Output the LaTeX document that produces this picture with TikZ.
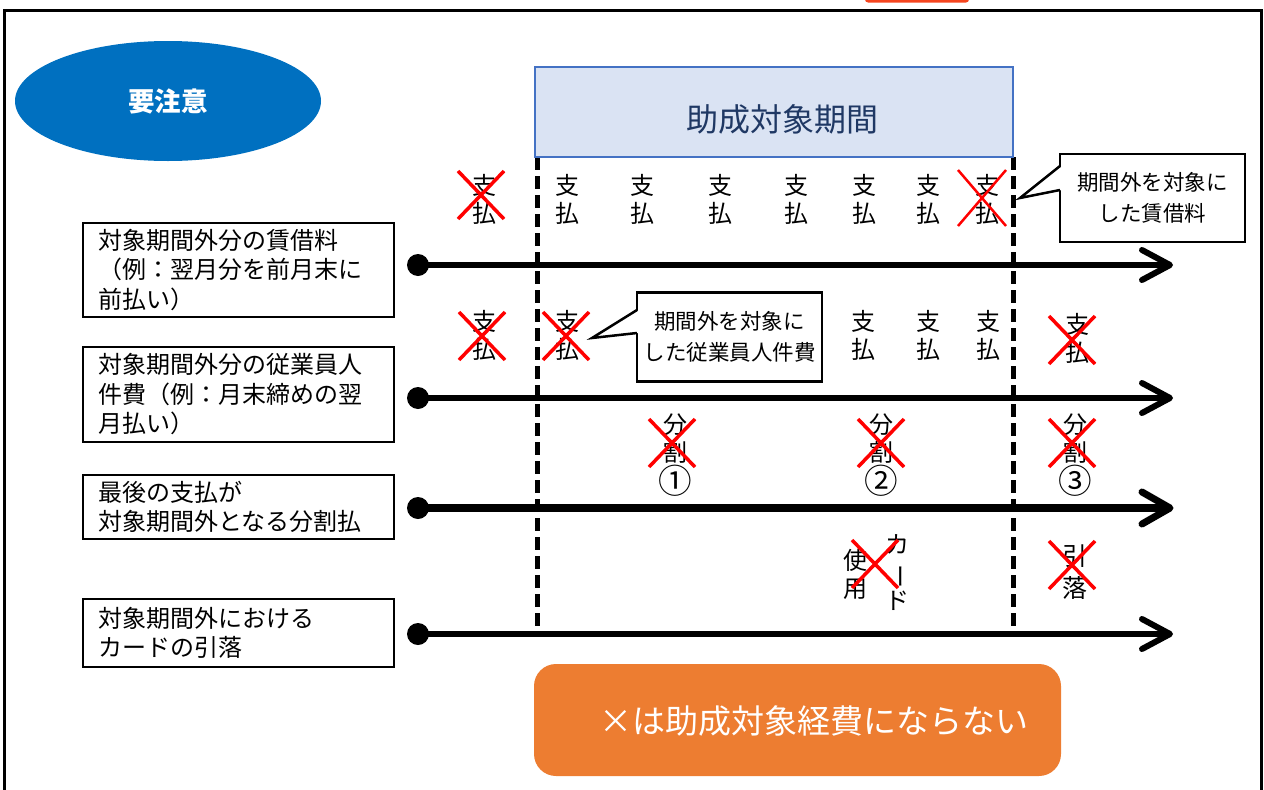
\documentclass[tikz,border=0pt]{standalone}
\usepackage{fontspec}
\setmainfont{Noto Sans CJK JP}
\usetikzlibrary{calc,shapes.geometric}
\definecolor{ellblue}{HTML}{0070C0}
\definecolor{titlefill}{HTML}{DAE3F3}
\definecolor{titleedge}{HTML}{4472C4}
\definecolor{titletext}{HTML}{1F3864}
\definecolor{boxorange}{HTML}{ED7D31}
\definecolor{tabred}{HTML}{F5451E}
\definecolor{xred}{HTML}{FF0000}
\begin{document}
\begin{tikzpicture}[x=1pt,y=-1pt,
  lblbox/.style={draw, line width=2, text width=281, inner xsep=15, inner ysep=0,
    minimum height=#1, align=left, anchor=north west,
    font=\fontsize{24}{29.5}\selectfont},
  pay/.style={align=center, inner sep=0, font=\fontsize{24}{28}\selectfont},
  dot/.style={circle, fill=black, minimum size=22, inner sep=0},
  arr/.style={line width=5.5},
  chev/.style={line width=6, line cap=round, line join=round},
  vdash/.style={line width=5, dash pattern=on 13pt off 6pt},
  callbox/.style={draw, line width=2.5, fill=white, minimum width=185, align=center,
    font=\fontsize{21.5}{31}\selectfont},
  xmark/.pic={\draw[xred, line width=3.5] (-23,-24) -- (23,24) (-23,24) -- (23,-24);},
  xmarkthin/.pic={\draw[xred, line width=2.5] (-24,-28) -- (24,28) (-24,28) -- (24,-28);}
]
\useasboundingbox (0,0) rectangle (1264,790);
% frame
\fill[tabred, rounded corners=3] (865,-10) rectangle (969,2.5);
\draw[line width=3] (4,800) -- (4,10) -- (1261,10) -- (1261,800);

% ellipse
\node[ellipse, fill=ellblue, minimum width=306, minimum height=120, inner sep=0,
  text=white, font=\fontsize{26.5}{30}\selectfont\bfseries] (ell) at (168,101) {要注意};

% dashed period lines
\coordinate (vl1t) at (537,157);
\coordinate (vl1b) at (537,632);
\coordinate (vl2t) at (1013,157);
\coordinate (vl2b) at (1013,632);
\draw[vdash] (vl1t) -- (vl1b);
\draw[vdash] (vl2t) -- (vl2b);

% title box
\node[draw=titleedge, line width=2, fill=titlefill, minimum width=478, minimum height=90,
  inner sep=0] (tb) at (774,112) {};
\node[text=titletext, font=\fontsize{32}{36}\selectfont] (tt) at (782,119) {助成対象期間};

% label boxes
\node[lblbox=94] (L1) at (82,222) {対象期間外分の賃借料\\（例：翌月分を前月末に\\前払い）};
\node[lblbox=95] (L2) at (82,346) {対象期間外分の従業員人\\件費（例：月末締めの翌\\月払い）};
\node[lblbox=64] (L3) at (82,474) {最後の支払が\\対象期間外となる分割払};
\node[lblbox=68] (L4) at (82,598) {対象期間外における\\カードの引落};

% arrows
\node[dot] (d1) at (418,265) {};
\coordinate (t1) at (1170,265);
\draw[arr] (d1.center) -- ([xshift=-3pt]t1);
\draw[chev] ([shift={(-28,-15)}]t1) -- (t1) -- ([shift={(-28,15)}]t1);

\node[dot] (d2) at (418,398) {};
\coordinate (t2) at (1170,398);
\draw[arr] (d2.center) -- ([xshift=-3pt]t2);
\draw[chev] ([shift={(-28,-15)}]t2) -- (t2) -- ([shift={(-28,15)}]t2);

\node[dot] (d3) at (418,508) {};
\coordinate (t3) at (1170,508);
\draw[line width=8] (d3.center) -- ([xshift=-4pt]t3);
\draw[chev, line width=7] ([shift={(-28,-16)}]t3) -- (t3) -- ([shift={(-28,16)}]t3);

\node[dot] (d4) at (418,634) {};
\coordinate (t4) at (1170,634);
\draw[arr] (d4.center) -- ([xshift=-3pt]t4);
\draw[chev] ([shift={(-28,-15)}]t4) -- (t4) -- ([shift={(-28,15)}]t4);

% row 1 payments
\node[pay] (p11) at (484,199) {支\\払};
\node[pay] (p12) at (567,199) {支\\払};
\node[pay] (p13) at (642,199) {支\\払};
\node[pay] (p14) at (720,199) {支\\払};
\node[pay] (p15) at (796,199) {支\\払};
\node[pay] (p16) at (864,199) {支\\払};
\node[pay] (p17) at (928,199) {支\\払};
\node[pay] (p18) at (987,199) {支\\払};
\pic at (481,195) {xmark};
\pic at (982,198) {xmarkthin};

% row 2 payments
\node[pay] (p21) at (484,335) {支\\払};
\node[pay] (p22) at (567,335) {支\\払};
\node[pay] (p23) at (863,335) {支\\払};
\node[pay] (p24) at (928,335) {支\\払};
\node[pay] (p25) at (988,335) {支\\払};
\node[pay] (p26) at (1077,338) {支\\払};
\pic at (482,336) {xmark};
\pic at (566,336) {xmark};
\pic at (1072,340) {xmark};

% row 3 instalments
\node[pay] (b1) at (675,455) {分\\割\\\scalebox{1.4}{①}};
\node[pay] (b2) at (881,455) {分\\割\\\scalebox{1.4}{②}};
\node[pay] (b3) at (1075,455) {分\\割\\\scalebox{1.4}{③}};
\pic at (672,443) {xmark};
\pic at (881,443) {xmark};
\pic at (1072,443) {xmark};

% row 4 card
\node[pay] (cu) at (855,574) {使\\用};
\node[pay] (cc) at (897,573) {カ\\\rotatebox[origin=c]{-90}{ー}\\ド};
\node[pay, font=\fontsize{25}{32}\selectfont] (hk) at (1075,572) {引\\落};
\pic at (875,564) {xmark};
\pic at (1072,565) {xmark};

% callout 1
\node[callbox, minimum height=88] (c1) at (1152.5,198) {期間外を対象に\\した賃借料};
\coordinate (c1tip) at (1020,198);
\coordinate (c1a) at (1060,166);
\coordinate (c1b) at (1060,190);
\fill[white] ([xshift=2pt]c1a) -- (c1tip) -- ([xshift=2pt]c1b) -- cycle;
\draw[line width=2.5, line join=miter] (c1a) -- (c1tip) -- (c1b);

% callout 2
\node[callbox, minimum height=89] (c2) at (729.5,337) {期間外を対象に\\した従業員人件費};
\coordinate (c2tip) at (592,338);
\coordinate (c2a) at (637,310);
\coordinate (c2b) at (637,333);
\fill[white] ([xshift=2pt]c2a) -- (c2tip) -- ([xshift=2pt]c2b) -- cycle;
\draw[line width=2.5, line join=miter] (c2a) -- (c2tip) -- (c2b);

% bottom note
\node[fill=boxorange, rounded corners=22, minimum width=527, minimum height=112, inner sep=0]
  (ob) at (797.5,720) {};
\node[text=white, font=\fontsize{33}{38}\selectfont] (ot) at (814,721) {×は助成対象経費にならない};
\end{tikzpicture}
\end{document}
